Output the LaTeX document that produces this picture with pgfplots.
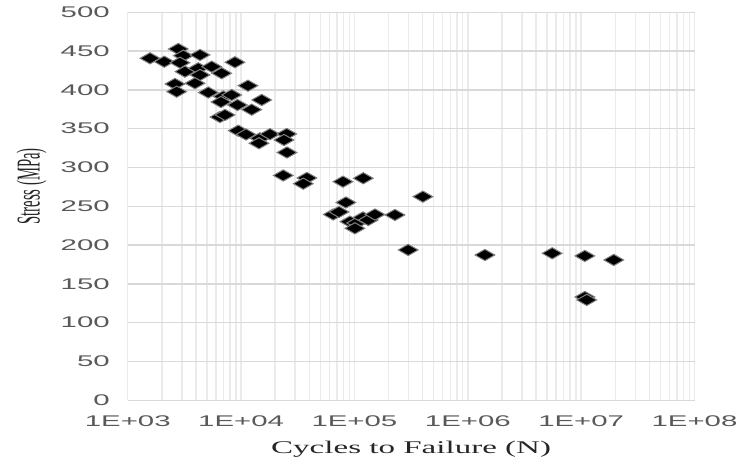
\documentclass[border=0pt]{standalone}
\usepackage{fontspec}
\usepackage{pgfplots}
\pgfplotsset{compat=1.18}
\newfontfamily\tickfont[FakeStretch=1.9]{Liberation Sans}
\newfontfamily\xlabfont[FakeStretch=1.85]{Liberation Serif}
\newfontfamily\ylabfont[FakeStretch=0.44]{Liberation Serif}
\definecolor{hgrid}{HTML}{D9D9D9}
\definecolor{vgrid}{HTML}{EBEBEB}
\definecolor{ticktxt}{HTML}{595959}
\definecolor{mkedge}{HTML}{7F7F7F}

\begin{document}
\begin{tikzpicture}
\useasboundingbox (-95.8pt,-47pt) rectangle (459.2pt,300.2pt);
\begin{axis}[
    scale only axis,
    width=425.1pt, height=291pt,
    xmode=log,
    xmin=1e3, xmax=1e8,
    ymin=0, ymax=500,
    xtick={1e3,1e4,1e5,1e6,1e7,1e8},
    xticklabels={1E+03,1E+04,1E+05,1E+06,1E+07,1E+08},
    minor xtick={2e3,3e3,4e3,5e3,6e3,7e3,8e3,9e3,
                 2e4,3e4,4e4,5e4,6e4,7e4,8e4,9e4,
                 2e5,3e5,4e5,5e5,6e5,7e5,8e5,9e5,
                 2e6,3e6,4e6,5e6,6e6,7e6,8e6,9e6,
                 2e7,3e7,4e7,5e7,6e7,7e7,8e7,9e7},
    ytick={0,50,100,150,200,250,300,350,400,450,500},
    yticklabels={0,50,100,150,200,250,300,350,400,450,500},
    xmajorgrids, xminorgrids, ymajorgrids,
    x grid style={color=vgrid, line width=1.1pt},
    y grid style={color=hgrid, line width=1pt},
    axis line style={draw=none},
    major tick length=0pt, minor tick length=0pt,
    xticklabel style={font=\fontsize{11.6}{12}\tickfont, text=ticktxt, anchor=base, yshift=-19.8pt},
    yticklabel style={font=\fontsize{11.6}{12}\tickfont, text=ticktxt, anchor=east, inner sep=0pt, xshift=-13.3pt},
    every axis x label/.style={at={(rel axis cs:0.5,0)}, anchor=center, yshift=-36.5pt,
        font=\fontsize{13.4}{14}\xlabfont, text=black!85},
    every axis y label/.style={at={(rel axis cs:0,0.5)}, xshift=-72pt, yshift=15pt,
        anchor=center, rotate=90, font=\fontsize{25}{26}\ylabfont, text=black!85},
    xlabel={Cycles to Failure (N)},
    ylabel={Stress (MPa)},
    clip=false,
]
\addplot[only marks, mark=diamond*, mark size=4.2pt,
    mark options={fill=black, draw=mkedge, line width=0.75pt, xscale=2.35}]
coordinates {
(1573,440.7) (2101,436.3) (2793,452.7) (3090,444.1) (4341,445)
(2891,435) (8831,435.6) (3201,423.5) (4194,427.8) (5504,429.9)
(4341,419.2) (6745,421.4) (2612,407.6) (3921,408.5) (2704,397.7)
(11500,405.4) (5136,396.6) (6966,391.5) (8260,393.4) (6650,384.4)
(9294,380.5) (15200,387) (12400,374.5) (6516,365) (7210,367.7)
(9446,347.4) (11050,342.5) (14680,337.6) (17980,342.9) (25240,343.2)
(14380,331.2) (23900,335.4) (25400,319.3) (23550,289.7) (38100,286.5)
(35370,279.1) (79200,281.7) (119600,286.1) (401800,262.4) (84100,254.9)
(65000,239.4) (73000,242.7) (91300,230.2) (104500,228.5) (101000,221.6)
(118900,235.6) (132400,232.3) (151700,239.4) (227600,238.8) (298000,193.7)
(1416000,187.2) (5550000,189.4) (10780000,186) (19400000,180.8)
(10780000,133.1) (11200000,129.3)
};
\end{axis}
\end{tikzpicture}
\end{document}
